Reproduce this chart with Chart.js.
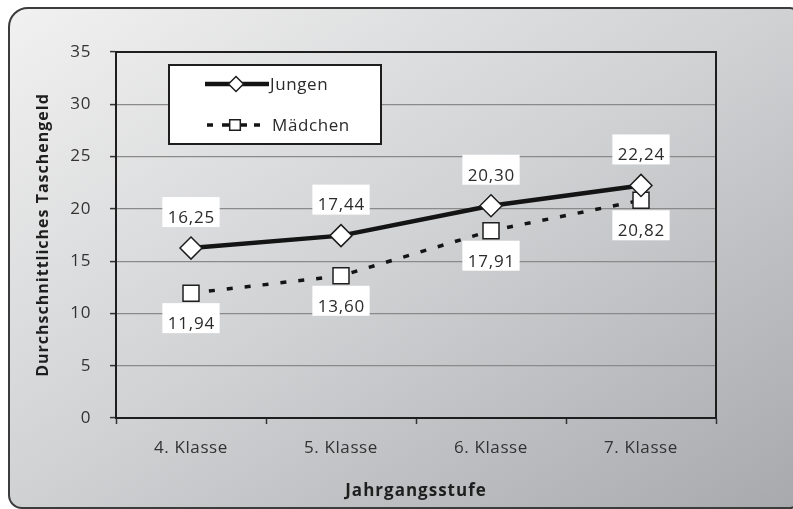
<!DOCTYPE html>
<html lang="de">
<head>
<meta charset="utf-8">
<title>Durchschnittliches Taschengeld nach Jahrgangsstufe</title>
<script src="https://cdn.jsdelivr.net/npm/chart.js@4.4.1/dist/chart.umd.min.js"></script>
<style>
  html, body { margin: 0; padding: 0; background: #ffffff; }
  #wrap { position: relative; width: 793px; height: 509px; overflow: hidden; }
  #frame {
    position: absolute; left: 8px; top: 7px; width: 786px; height: 498px;
    border: 2px solid #3c3c3c; border-radius: 20px 8px 8px 14px;
    background: linear-gradient(to bottom right, #f1f1f1 0%, #d0d1d3 50%, #a7a9ac 100%);
    box-sizing: content-box;
  }
  canvas { position: absolute; left: 0; top: 0; }
</style>
</head>
<body>
<div id="wrap">
  <div id="frame"></div>
  <canvas id="chart" width="793" height="509"></canvas>
</div>
<script>
// Kategorien und Werte
const categories = ['4. Klasse', '5. Klasse', '6. Klasse', '7. Klasse'];
const jungen = [16.25, 17.44, 20.30, 22.24];
const maedchen = [11.94, 13.60, 17.91, 20.82];
const yTicks = [0, 5, 10, 15, 20, 25, 30, 35];
const seriesNames = ['Jungen', 'Mädchen'];

const FONT = '"Open Sans", "DejaVu Sans", sans-serif';
const fmt = v => v.toFixed(2).replace('.', ',');

// Etwas Laufweite für alle Texte
const spacing = {
  id: 'spacing',
  beforeDraw(chart) { chart.ctx.letterSpacing = '0.6px'; }
};

// Achsentitel mit größerer Laufweite
function widenTitle(scale) {
  if (scale._wideTitle) return;
  scale._wideTitle = true;
  const orig = scale.drawTitle.bind(scale);
  scale.drawTitle = function () {
    const c = this.ctx;
    c.save();
    c.letterSpacing = '1px';
    orig();
    c.restore();
  };
}

// Werte-Beschriftungen mit weißem Hintergrund (über Rasterlinien)
const valueLabels = {
  id: 'valueLabels',
  beforeDatasetsDraw(chart) {
    const ctx = chart.ctx;
    ctx.save();
    ctx.letterSpacing = '0.8px';
    ctx.font = '17px ' + FONT;
    ctx.textAlign = 'center';
    ctx.textBaseline = 'middle';
    chart.data.datasets.forEach((ds, di) => {
      const meta = chart.getDatasetMeta(di);
      const dy = di === 0 ? -31 : 30;
      meta.data.forEach((pt, i) => {
        const txt = fmt(ds.data[i]);
        const w = ctx.measureText(txt).width;
        const cx = pt.x, cy = pt.y + dy;
        ctx.fillStyle = '#ffffff';
        ctx.fillRect(cx - w / 2 - 5, cy - 20, w + 10, 30);
        ctx.fillStyle = '#2b2b2b';
        ctx.fillText(txt, cx + 0.4, cy + 1);
      });
    });
    ctx.restore();
  }
};

// Rahmen des Diagrammbereichs
const plotFrame = {
  id: 'plotFrame',
  beforeDatasetsDraw(chart) {
    const { ctx, chartArea: a } = chart;
    ctx.save();
    ctx.strokeStyle = '#1e1e1e';
    ctx.lineWidth = 2;
    ctx.strokeRect(a.left, a.top, a.right - a.left, a.bottom - a.top);
    ctx.restore();
  }
};

// Legende im Kasten oben links
const boxLegend = {
  id: 'boxLegend',
  afterDraw(chart) {
    const { ctx, chartArea: a } = chart;
    const x0 = a.left + 53, y0 = a.top + 13, w = 212, h = 79;
    ctx.save();
    ctx.fillStyle = '#ffffff';
    ctx.fillRect(x0, y0, w, h);
    ctx.strokeStyle = '#1e1e1e';
    ctx.lineWidth = 2;
    ctx.strokeRect(x0, y0, w, h);
    const rows = [y0 + 19, y0 + 60];
    // Linienstücke je Reihe (relativ zum Kasten)
    const segs = [
      [[36, 100]],
      [[38, 44], [53, 78], [85, 91]]
    ];
    chart.data.datasets.forEach((ds, di) => {
      const y = rows[di];
      ctx.save();
      ctx.strokeStyle = ds.borderColor;
      ctx.lineWidth = ds.borderWidth;
      ctx.beginPath();
      segs[di].forEach(([a1, a2]) => { ctx.moveTo(x0 + a1, y); ctx.lineTo(x0 + a2, y); });
      ctx.stroke();
      ctx.restore();
      ctx.save();
      ctx.fillStyle = '#ffffff';
      ctx.strokeStyle = '#1e1e1e';
      ctx.lineWidth = 1.5;
      Chart.helpers.drawPoint(ctx, {
        pointStyle: ds.pointStyle, radius: di === 0 ? 7.5 : 7.5, borderWidth: 1.5
      }, x0 + (di === 0 ? 67 : 66), y);
      ctx.restore();
      ctx.save();
      ctx.letterSpacing = '0.6px';
      ctx.fillStyle = '#2b2b2b';
      ctx.font = '17px ' + FONT;
      ctx.textBaseline = 'middle';
      ctx.textAlign = 'left';
      ctx.fillText(ds.label, di === 0 ? x0 + 101 : x0 + 103, y + 1);
      ctx.restore();
    });
    ctx.restore();
  }
};

new Chart(document.getElementById('chart'), {
  type: 'line',
  data: {
    labels: categories,
    datasets: [
      {
        label: seriesNames[0],
        data: jungen,
        borderColor: '#141414',
        borderWidth: 4.5,
        pointStyle: 'rectRot',
        pointRadius: 11,
        pointBorderWidth: 1.5,
        pointBackgroundColor: '#ffffff',
        pointBorderColor: '#1e1e1e',
        tension: 0,
        order: 1
      },
      {
        label: seriesNames[1],
        data: maedchen,
        borderColor: '#141414',
        borderWidth: 3.5,
        borderDash: [6, 12],
        pointStyle: 'rect',
        pointRadius: 11.3,
        pointBorderWidth: 1.5,
        pointBackgroundColor: '#ffffff',
        pointBorderColor: '#1e1e1e',
        tension: 0,
        order: 2
      }
    ]
  },
  options: {
    responsive: false,
    animation: false,
    layout: { padding: { left: 0, top: 52, right: 77, bottom: 0 } },
    plugins: {
      legend: { display: false },
      tooltip: { enabled: false }
    },
    scales: {
      x: {
        offset: true,
        afterFit(s) { s.height = 91; widenTitle(s); },
        grid: {
          offset: true,
          drawOnChartArea: false,
          drawTicks: true,
          tickLength: 6,
          tickColor: '#333333',
          tickWidth: 1.5
        },
        border: { display: true, color: '#1e1e1e', width: 2 },
        ticks: {
          color: '#333333',
          font: { family: FONT, size: 17 },
          padding: 14
        },
        title: {
          display: true,
          text: 'Jahrgangsstufe',
          color: '#1e1e1e',
          font: { family: FONT, size: 17, weight: 'bold' },
          padding: { top: 0, bottom: 8 }
        }
      },
      y: {
        min: 0,
        max: 35,
        afterFit(s) { s.width = 116; widenTitle(s); },
        afterBuildTicks(s) { s.ticks = yTicks.map(v => ({ value: v })); },
        grid: {
          color: '#8a8a8a',
          lineWidth: 1.2,
          drawTicks: true,
          tickLength: 6,
          tickColor: '#333333',
          tickWidth: 1.5
        },
        border: { display: true, color: '#1e1e1e', width: 2 },
        ticks: {
          color: '#333333',
          font: { family: FONT, size: 17 },
          padding: 19
        },
        title: {
          display: true,
          text: 'Durchschnittliches Taschengeld',
          color: '#1e1e1e',
          font: { family: FONT, size: 16, weight: 'bold' },
          padding: { top: 34, bottom: 0 }
        }
      }
    }
  },
  plugins: [spacing, plotFrame, valueLabels, boxLegend]
});
</script>
</body>
</html>
